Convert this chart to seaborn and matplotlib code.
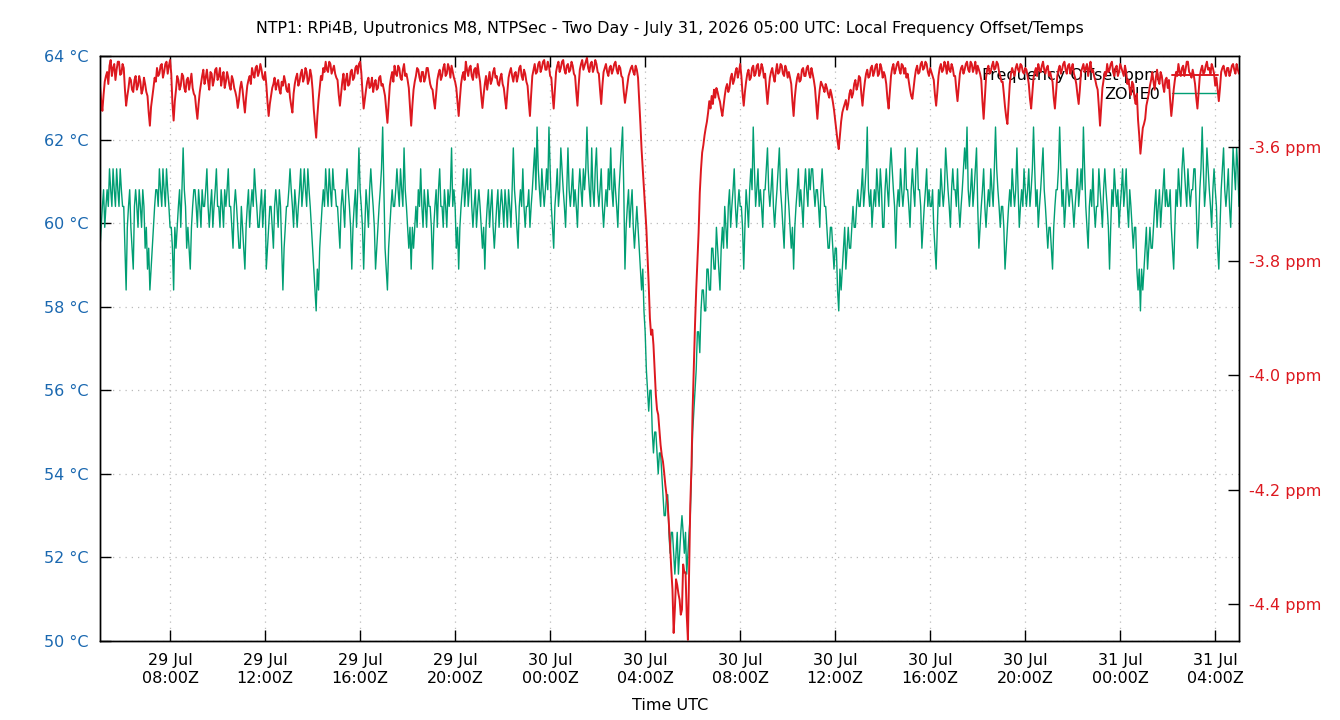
import pandas as pd
import seaborn as sns
import matplotlib.pyplot as plt
import matplotlib.dates as mdates
from matplotlib.ticker import FuncFormatter, MultipleLocator
from matplotlib.lines import Line2D

TITULO = ("NTP1: RPi4B, Uputronics M8, NTPSec - Two Day - July 31, 2026 05:00 UTC: "
          "Local Frequency Offset/Temps")
INICIO = "2026-07-29 05:03"
FIN = "2026-07-31 05:00"
PASO = "3min"

ROJO = "#dd181f"
VERDE = "#009e73"
AZUL = "#1a68b0"

# Offset de frecuencia [ppm], una fila por hora (muestra cada 3 min)
frecuencia_ppm = [
    -3.493, -3.520, -3.537, -3.509, -3.486, -3.476, -3.469, -3.490, -3.458, -3.448, -3.476, -3.462, -3.455, -3.483, -3.465, -3.451, -3.451, -3.474, -3.472, -3.455,
    -3.462, -3.500, -3.528, -3.511, -3.497, -3.479, -3.483, -3.500, -3.504, -3.483, -3.476, -3.500, -3.493, -3.476, -3.486, -3.507, -3.500, -3.479, -3.490, -3.504,
    -3.511, -3.540, -3.563, -3.530, -3.514, -3.497, -3.479, -3.486, -3.462, -3.476, -3.472, -3.458, -3.455, -3.479, -3.469, -3.455, -3.451, -3.472, -3.458, -3.448,
    -3.472, -3.525, -3.554, -3.520, -3.500, -3.476, -3.483, -3.500, -3.493, -3.472, -3.476, -3.497, -3.504, -3.483, -3.479, -3.500, -3.486, -3.472, -3.497, -3.507,
    -3.511, -3.533, -3.551, -3.525, -3.504, -3.490, -3.476, -3.465, -3.490, -3.479, -3.465, -3.486, -3.500, -3.469, -3.472, -3.493, -3.483, -3.465, -3.462, -3.483,
    -3.476, -3.462, -3.493, -3.479, -3.469, -3.497, -3.486, -3.469, -3.479, -3.493, -3.500, -3.476, -3.483, -3.497, -3.504, -3.514, -3.532, -3.518, -3.497, -3.486,
    -3.500, -3.521, -3.540, -3.514, -3.493, -3.483, -3.476, -3.490, -3.462, -3.472, -3.479, -3.462, -3.458, -3.476, -3.469, -3.455, -3.465, -3.479, -3.483, -3.469,
    -3.490, -3.521, -3.546, -3.525, -3.511, -3.497, -3.490, -3.479, -3.500, -3.490, -3.483, -3.500, -3.507, -3.486, -3.493, -3.476, -3.486, -3.500, -3.504, -3.490,
    -3.514, -3.528, -3.540, -3.507, -3.490, -3.479, -3.472, -3.493, -3.486, -3.472, -3.465, -3.486, -3.479, -3.462, -3.469, -3.490, -3.483, -3.465, -3.476, -3.500,
    -3.535, -3.560, -3.584, -3.546, -3.518, -3.497, -3.476, -3.483, -3.462, -3.469, -3.451, -3.465, -3.469, -3.451, -3.455, -3.472, -3.465, -3.458, -3.472, -3.479,
    -3.483, -3.509, -3.528, -3.507, -3.486, -3.472, -3.500, -3.483, -3.472, -3.493, -3.490, -3.469, -3.465, -3.483, -3.479, -3.462, -3.458, -3.472, -3.455, -3.451,
    -3.469, -3.504, -3.533, -3.516, -3.500, -3.486, -3.479, -3.497, -3.493, -3.479, -3.504, -3.490, -3.483, -3.500, -3.497, -3.479, -3.476, -3.493, -3.490, -3.500,
    -3.511, -3.535, -3.558, -3.525, -3.493, -3.479, -3.469, -3.486, -3.458, -3.472, -3.476, -3.458, -3.462, -3.479, -3.483, -3.465, -3.455, -3.476, -3.472, -3.483,
    -3.497, -3.530, -3.563, -3.528, -3.500, -3.486, -3.476, -3.462, -3.465, -3.479, -3.486, -3.469, -3.469, -3.486, -3.479, -3.462, -3.462, -3.476, -3.490, -3.497,
    -3.500, -3.518, -3.533, -3.507, -3.483, -3.472, -3.465, -3.483, -3.476, -3.462, -3.455, -3.476, -3.472, -3.455, -3.462, -3.479, -3.458, -3.469, -3.479, -3.486,
    -3.497, -3.521, -3.546, -3.516, -3.490, -3.476, -3.469, -3.483, -3.451, -3.465, -3.476, -3.462, -3.458, -3.476, -3.483, -3.465, -3.462, -3.479, -3.455, -3.472,
    -3.486, -3.511, -3.532, -3.509, -3.490, -3.476, -3.500, -3.483, -3.469, -3.490, -3.483, -3.469, -3.462, -3.479, -3.476, -3.490, -3.493, -3.479, -3.472, -3.490,
    -3.497, -3.516, -3.533, -3.504, -3.479, -3.469, -3.462, -3.476, -3.486, -3.472, -3.469, -3.486, -3.476, -3.462, -3.458, -3.476, -3.483, -3.465, -3.472, -3.486,
    -3.493, -3.521, -3.546, -3.509, -3.476, -3.465, -3.455, -3.472, -3.469, -3.455, -3.451, -3.469, -3.462, -3.451, -3.448, -3.465, -3.465, -3.451, -3.458, -3.476,
    -3.479, -3.509, -3.533, -3.500, -3.469, -3.458, -3.451, -3.469, -3.462, -3.451, -3.448, -3.465, -3.472, -3.458, -3.455, -3.469, -3.465, -3.451, -3.458, -3.472,
    -3.476, -3.504, -3.528, -3.493, -3.465, -3.455, -3.448, -3.465, -3.458, -3.451, -3.444, -3.462, -3.469, -3.455, -3.451, -3.469, -3.462, -3.448, -3.455, -3.469,
    -3.472, -3.500, -3.525, -3.493, -3.469, -3.462, -3.455, -3.469, -3.476, -3.462, -3.458, -3.472, -3.465, -3.455, -3.451, -3.465, -3.472, -3.458, -3.462, -3.476,
    -3.479, -3.504, -3.523, -3.507, -3.491, -3.476, -3.469, -3.462, -3.458, -3.469, -3.474, -3.458, -3.465, -3.479, -3.518, -3.560, -3.605, -3.640, -3.675, -3.710,
    -3.742, -3.790, -3.842, -3.900, -3.929, -3.920, -3.947, -3.990, -4.034, -4.060, -4.069, -4.095, -4.122, -4.140, -4.151, -4.170, -4.192, -4.210, -4.227, -4.260,
    -4.297, -4.340, -4.375, -4.451, -4.410, -4.357, -4.367, -4.382, -4.393, -4.419, -4.410, -4.331, -4.345, -4.345, -4.420, -4.463, -4.340, -4.227, -4.160, -4.058,
    -3.985, -3.910, -3.850, -3.800, -3.750, -3.680, -3.640, -3.610, -3.597, -3.580, -3.567, -3.556, -3.540, -3.520, -3.533, -3.511, -3.525, -3.500, -3.514, -3.497,
    -3.504, -3.514, -3.521, -3.535, -3.546, -3.528, -3.511, -3.497, -3.490, -3.504, -3.497, -3.479, -3.472, -3.490, -3.483, -3.469, -3.462, -3.479, -3.469, -3.455,
    -3.476, -3.507, -3.528, -3.504, -3.486, -3.472, -3.465, -3.483, -3.479, -3.462, -3.458, -3.476, -3.472, -3.458, -3.455, -3.476, -3.469, -3.455, -3.462, -3.479,
    -3.472, -3.500, -3.525, -3.500, -3.479, -3.469, -3.462, -3.476, -3.486, -3.469, -3.455, -3.472, -3.469, -3.455, -3.458, -3.472, -3.476, -3.458, -3.465, -3.479,
    -3.469, -3.479, -3.490, -3.521, -3.546, -3.514, -3.493, -3.479, -3.472, -3.486, -3.483, -3.465, -3.462, -3.476, -3.476, -3.462, -3.458, -3.472, -3.479, -3.462,
    -3.472, -3.483, -3.497, -3.525, -3.551, -3.521, -3.500, -3.486, -3.491, -3.497, -3.504, -3.490, -3.497, -3.507, -3.514, -3.500, -3.509, -3.521, -3.535, -3.553,
    -3.570, -3.590, -3.604, -3.580, -3.556, -3.540, -3.532, -3.525, -3.518, -3.535, -3.525, -3.507, -3.500, -3.514, -3.507, -3.490, -3.483, -3.500, -3.493, -3.476,
    -3.479, -3.507, -3.528, -3.504, -3.486, -3.472, -3.465, -3.479, -3.476, -3.462, -3.458, -3.476, -3.469, -3.458, -3.455, -3.476, -3.472, -3.455, -3.462, -3.479,
    -3.469, -3.476, -3.490, -3.516, -3.533, -3.504, -3.476, -3.462, -3.455, -3.472, -3.465, -3.455, -3.451, -3.465, -3.472, -3.455, -3.458, -3.472, -3.462, -3.479,
    -3.472, -3.486, -3.500, -3.511, -3.516, -3.497, -3.479, -3.465, -3.458, -3.472, -3.469, -3.455, -3.451, -3.465, -3.462, -3.451, -3.455, -3.469, -3.476, -3.462,
    -3.469, -3.476, -3.483, -3.509, -3.528, -3.504, -3.476, -3.462, -3.455, -3.469, -3.465, -3.451, -3.458, -3.472, -3.451, -3.465, -3.469, -3.455, -3.462, -3.476,
    -3.476, -3.500, -3.520, -3.497, -3.472, -3.462, -3.458, -3.472, -3.465, -3.455, -3.451, -3.465, -3.469, -3.451, -3.455, -3.469, -3.462, -3.451, -3.472, -3.458,
    -3.465, -3.472, -3.483, -3.521, -3.551, -3.516, -3.479, -3.465, -3.458, -3.472, -3.469, -3.458, -3.451, -3.465, -3.462, -3.451, -3.455, -3.469, -3.476, -3.486,
    -3.486, -3.507, -3.530, -3.548, -3.560, -3.525, -3.490, -3.472, -3.462, -3.469, -3.476, -3.462, -3.455, -3.465, -3.469, -3.455, -3.458, -3.469, -3.472, -3.462,
    -3.465, -3.476, -3.490, -3.516, -3.533, -3.507, -3.479, -3.469, -3.462, -3.476, -3.455, -3.465, -3.469, -3.458, -3.451, -3.465, -3.472, -3.462, -3.458, -3.476,
    -3.469, -3.479, -3.486, -3.514, -3.533, -3.504, -3.476, -3.465, -3.458, -3.472, -3.465, -3.455, -3.451, -3.465, -3.472, -3.458, -3.455, -3.472, -3.462, -3.455,
    -3.472, -3.479, -3.490, -3.509, -3.525, -3.500, -3.469, -3.462, -3.455, -3.469, -3.462, -3.455, -3.476, -3.462, -3.451, -3.469, -3.465, -3.476, -3.483, -3.493,
    -3.500, -3.530, -3.563, -3.530, -3.497, -3.483, -3.469, -3.476, -3.455, -3.469, -3.465, -3.455, -3.451, -3.469, -3.476, -3.462, -3.458, -3.476, -3.469, -3.455,
    -3.462, -3.469, -3.476, -3.458, -3.469, -3.490, -3.483, -3.500, -3.509, -3.486, -3.491, -3.514, -3.525, -3.507, -3.553, -3.580, -3.612, -3.590, -3.567, -3.560,
    -3.551, -3.528, -3.518, -3.507, -3.493, -3.483, -3.469, -3.486, -3.500, -3.479, -3.465, -3.483, -3.490, -3.469, -3.476, -3.493, -3.504, -3.483, -3.479, -3.497,
    -3.483, -3.518, -3.546, -3.525, -3.500, -3.483, -3.469, -3.476, -3.455, -3.469, -3.476, -3.462, -3.458, -3.476, -3.465, -3.451, -3.451, -3.469, -3.472, -3.479,
    -3.465, -3.476, -3.490, -3.514, -3.533, -3.504, -3.476, -3.465, -3.458, -3.472, -3.469, -3.458, -3.451, -3.465, -3.462, -3.472, -3.455, -3.462, -3.472, -3.493,
    -3.479, -3.500, -3.520, -3.497, -3.469, -3.462, -3.458, -3.469, -3.476, -3.462, -3.462, -3.476, -3.469, -3.458, -3.455, -3.465, -3.472, -3.455, -3.465, -3.472,
]

# Temperatura ZONE0 [°C], misma rejilla temporal
zona0_temp = [
    59.4, 59.9, 60.4, 60.8, 59.9, 60.4, 60.8, 60.4, 61.3, 60.8, 60.4, 61.3, 60.8, 60.4, 61.3, 60.8, 60.4, 61.3, 60.8, 60.4,
    60.4, 59.4, 58.4, 59.9, 60.4, 60.8, 59.9, 59.4, 58.9, 60.4, 60.8, 60.4, 59.9, 60.8, 60.4, 59.9, 60.8, 60.4, 59.4, 59.9,
    58.9, 59.4, 58.4, 58.9, 59.4, 59.9, 60.4, 60.8, 60.8, 60.4, 61.3, 60.8, 60.4, 61.3, 60.8, 60.4, 61.3, 60.8, 60.4, 59.9,
    59.9, 59.4, 58.4, 59.9, 59.4, 59.9, 60.4, 60.8, 59.9, 60.8, 61.8, 60.8, 60.4, 59.4, 59.9, 59.4, 58.9, 59.9, 60.4, 60.8,
    60.8, 60.4, 59.9, 60.8, 60.4, 59.9, 60.8, 60.4, 60.4, 60.8, 61.3, 60.4, 59.9, 60.4, 60.8, 59.9, 60.4, 60.8, 61.3, 60.4,
    60.4, 59.9, 60.8, 60.4, 59.9, 60.8, 60.4, 60.8, 61.3, 60.4, 60.4, 59.9, 59.4, 60.4, 60.8, 60.4, 59.9, 59.4, 59.4, 60.4,
    59.9, 59.4, 58.9, 59.9, 60.4, 60.8, 59.9, 60.4, 60.8, 60.4, 61.3, 60.8, 60.4, 59.9, 59.9, 60.4, 60.8, 59.9, 60.4, 60.8,
    58.9, 59.4, 59.9, 60.4, 60.4, 59.9, 59.4, 60.4, 60.8, 60.4, 59.9, 60.8, 60.4, 59.4, 58.4, 59.4, 59.9, 60.4, 60.4, 60.8,
    61.3, 60.8, 60.4, 59.9, 60.8, 60.4, 59.9, 60.4, 60.8, 61.3, 60.4, 60.8, 61.3, 60.8, 60.4, 61.3, 60.8, 60.4, 59.9, 59.4,
    58.9, 58.4, 57.9, 58.9, 58.4, 59.4, 59.9, 60.4, 60.8, 60.4, 61.3, 60.8, 60.4, 61.3, 60.8, 60.4, 61.3, 60.8, 60.8, 60.4,
    60.4, 59.9, 59.4, 60.4, 60.8, 60.4, 59.9, 60.8, 61.3, 60.8, 60.4, 59.9, 58.9, 59.9, 60.4, 60.8, 59.9, 60.8, 61.8, 60.8,
    60.4, 59.9, 58.9, 59.9, 60.8, 60.4, 59.9, 60.8, 61.3, 60.8, 60.4, 59.9, 58.9, 59.4, 59.9, 60.4, 60.8, 61.3, 62.3, 60.8,
    59.4, 58.9, 58.4, 59.4, 59.9, 60.4, 60.8, 60.4, 60.4, 60.8, 61.3, 60.8, 60.4, 61.3, 60.8, 60.4, 61.8, 60.8, 60.4, 59.9,
    59.4, 59.9, 58.9, 59.9, 59.4, 59.9, 60.4, 59.9, 60.8, 60.4, 61.3, 60.4, 59.9, 60.8, 60.4, 59.9, 60.8, 60.4, 60.4, 59.9,
    58.9, 59.9, 60.4, 60.8, 59.9, 60.8, 61.3, 60.4, 60.4, 59.9, 60.8, 60.4, 59.9, 60.8, 60.4, 60.8, 61.8, 60.4, 60.8, 60.4,
    59.4, 59.9, 58.9, 59.9, 60.4, 60.8, 61.3, 60.4, 60.8, 61.3, 60.4, 60.8, 61.3, 60.4, 59.9, 60.4, 60.8, 59.9, 60.4, 60.8,
    60.4, 59.9, 59.4, 59.9, 58.9, 59.9, 60.4, 60.8, 59.9, 60.4, 60.8, 59.9, 59.4, 59.9, 60.4, 60.8, 59.9, 60.4, 60.8, 60.4,
    59.9, 60.8, 60.4, 59.9, 60.8, 60.4, 59.9, 60.8, 61.8, 60.8, 60.4, 59.9, 59.4, 60.4, 60.8, 60.4, 61.3, 60.4, 59.9, 60.4,
    60.4, 60.8, 59.9, 60.4, 60.8, 61.3, 61.8, 60.8, 62.3, 61.3, 60.8, 60.4, 61.3, 60.8, 60.4, 60.8, 61.3, 60.8, 62.3, 61.3,
    60.4, 59.9, 59.4, 60.4, 60.8, 61.3, 60.4, 60.8, 61.8, 61.3, 60.8, 60.4, 59.9, 60.8, 61.8, 60.8, 60.4, 60.8, 61.3, 60.4,
    60.8, 60.4, 59.9, 60.8, 61.3, 60.8, 60.4, 61.3, 60.8, 61.3, 62.3, 61.3, 60.8, 60.4, 61.8, 60.8, 60.4, 61.3, 61.8, 60.8,
    60.4, 60.8, 61.3, 60.4, 59.9, 60.4, 60.8, 60.4, 61.3, 60.8, 61.8, 60.8, 60.4, 61.3, 60.8, 60.4, 59.9, 60.8, 61.3, 61.8,
    62.3, 60.8, 58.9, 59.9, 60.4, 60.8, 59.9, 60.4, 60.8, 59.9, 59.4, 59.9, 60.4, 59.9, 59.4, 58.9, 58.4, 58.9, 57.9, 57.4,
    56.5, 56.0, 55.5, 56.0, 56.0, 55.0, 54.5, 55.0, 55.0, 54.5, 54.0, 54.5, 54.5, 54.0, 53.5, 53.0, 53.0, 53.5, 53.5, 52.6,
    52.1, 52.6, 52.6, 52.1, 51.6, 52.1, 52.6, 51.6, 52.1, 52.6, 53.0, 52.6, 52.1, 52.6, 51.6, 52.1, 52.6, 53.0, 54.0, 55.0,
    55.5, 56.0, 56.5, 57.4, 57.4, 56.9, 57.9, 58.4, 58.4, 57.9, 57.9, 58.9, 58.9, 58.4, 58.4, 59.4, 59.4, 58.9, 58.9, 59.9,
    59.4, 58.9, 58.4, 59.4, 59.9, 59.4, 60.4, 59.9, 59.4, 60.4, 60.8, 59.9, 60.4, 60.8, 61.3, 60.4, 59.9, 60.4, 60.8, 60.4,
    60.4, 59.9, 58.9, 59.9, 60.8, 60.4, 59.9, 60.8, 61.3, 60.8, 62.3, 61.3, 60.4, 60.8, 61.3, 60.4, 60.8, 60.4, 59.9, 60.8,
    60.8, 61.3, 61.8, 60.8, 60.4, 60.8, 61.3, 60.4, 59.9, 60.4, 60.8, 61.3, 61.8, 60.8, 60.4, 59.9, 59.4, 60.4, 61.3, 60.8,
    60.4, 59.9, 59.4, 59.9, 58.9, 59.9, 60.4, 60.8, 61.3, 60.4, 60.8, 60.4, 59.9, 60.8, 61.3, 60.8, 60.4, 61.3, 60.8, 61.3,
    61.3, 60.8, 60.4, 60.8, 60.8, 60.4, 59.9, 60.8, 61.3, 60.8, 60.4, 60.4, 59.9, 59.4, 59.4, 59.9, 59.9, 59.4, 58.9, 59.4,
    59.4, 58.4, 57.9, 58.9, 58.4, 58.9, 59.4, 59.9, 58.9, 59.4, 59.9, 59.4, 59.4, 59.9, 60.4, 59.9, 59.9, 60.4, 60.8, 60.4,
    60.4, 60.8, 61.3, 60.4, 60.8, 61.3, 62.3, 60.8, 60.4, 60.8, 59.9, 60.4, 60.8, 60.4, 61.3, 60.8, 60.4, 61.3, 60.8, 59.9,
    59.9, 60.8, 61.3, 60.8, 60.4, 61.3, 61.8, 61.3, 60.8, 60.4, 59.4, 60.4, 60.8, 60.4, 61.3, 60.8, 60.4, 60.8, 61.8, 60.8,
    60.8, 60.4, 59.9, 60.8, 61.3, 60.8, 60.4, 61.3, 61.8, 60.8, 60.8, 60.4, 59.4, 59.9, 60.4, 60.8, 61.3, 60.4, 60.8, 60.4,
    60.4, 60.8, 59.9, 59.4, 58.9, 59.9, 60.8, 60.4, 61.3, 60.8, 60.4, 60.8, 61.8, 61.3, 60.8, 60.4, 59.9, 60.8, 61.3, 60.8,
    60.8, 60.4, 61.3, 60.4, 59.9, 60.4, 60.8, 61.3, 61.8, 61.3, 62.3, 60.8, 60.4, 60.8, 61.3, 60.4, 60.8, 61.3, 61.8, 60.4,
    59.4, 59.9, 60.4, 60.8, 61.3, 60.4, 59.9, 60.4, 60.8, 60.4, 61.3, 60.8, 60.4, 61.3, 62.3, 61.3, 60.8, 60.4, 59.9, 60.4,
    60.4, 59.9, 58.9, 59.4, 59.9, 60.4, 60.8, 60.4, 61.3, 60.8, 60.4, 60.8, 61.8, 60.8, 59.9, 60.4, 60.8, 60.4, 61.3, 60.8,
    60.4, 60.8, 61.3, 60.4, 60.8, 61.3, 62.3, 61.3, 60.4, 60.8, 59.9, 60.4, 60.8, 61.3, 61.8, 60.8, 60.4, 59.9, 59.4, 59.9,
    59.9, 59.4, 58.9, 59.9, 60.4, 60.8, 60.8, 61.3, 62.3, 61.3, 60.4, 60.8, 59.9, 60.4, 61.3, 60.8, 60.4, 60.8, 60.8, 60.4,
    59.9, 60.4, 60.8, 61.3, 60.4, 60.8, 61.3, 60.8, 62.3, 61.3, 60.4, 59.9, 59.4, 60.4, 60.8, 60.4, 61.3, 60.4, 59.9, 60.4,
    60.4, 61.3, 60.8, 60.4, 59.9, 60.8, 61.3, 60.8, 60.4, 59.9, 58.9, 59.9, 60.8, 60.4, 61.3, 60.8, 60.4, 60.8, 59.9, 60.4,
    60.8, 61.3, 60.4, 60.8, 61.3, 60.4, 59.9, 60.8, 60.4, 59.9, 59.4, 59.9, 59.9, 58.9, 58.4, 58.9, 57.9, 58.9, 58.4, 58.9,
    59.4, 59.9, 58.9, 59.4, 59.9, 59.4, 59.4, 59.9, 60.4, 60.8, 59.9, 60.4, 60.8, 59.9, 60.4, 60.8, 61.3, 60.4, 60.8, 60.4,
    60.4, 60.8, 59.9, 59.4, 58.9, 59.9, 60.8, 60.4, 61.3, 60.8, 60.4, 61.3, 61.8, 61.3, 60.8, 60.4, 61.3, 60.8, 60.4, 60.8,
    60.8, 61.3, 61.3, 60.4, 59.4, 59.9, 60.8, 61.3, 62.3, 61.3, 60.4, 60.8, 61.8, 61.3, 60.8, 60.4, 59.9, 60.8, 61.3, 60.8,
    60.4, 59.4, 58.9, 59.9, 60.8, 61.3, 61.8, 60.8, 60.4, 60.8, 61.3, 60.4, 59.9, 60.8, 61.8, 61.3, 60.8, 61.8, 61.3, 60.4,
]

ETIQUETAS = ["Frequency Offset ppm", "ZONE0"]


def graficar():
    tiempo = pd.date_range(INICIO, periods=len(frecuencia_ppm), freq=PASO)
    df = pd.DataFrame({"tiempo": tiempo, "freq": frecuencia_ppm, "temp": zona0_temp})

    sns.set_theme(style="ticks")
    plt.rcParams['font.family'] = ['DejaVu Sans']
    plt.rcParams['text.color'] = 'black'
    plt.rcParams['xtick.color'] = 'black'
    plt.rcParams['ytick.color'] = 'black'
    plt.rcParams['axes.edgecolor'] = 'black'

    fig = plt.figure(figsize=(13.4, 7.2), dpi=100)
    ax = fig.add_axes([100 / 1340, 79 / 720, 1139 / 1340, 585 / 720])
    ax2 = ax.twinx()

    sns.lineplot(data=df, x="tiempo", y="temp", ax=ax, color=VERDE, linewidth=1.0,
                 estimator=None, errorbar=None, legend=False)
    sns.lineplot(data=df, x="tiempo", y="freq", ax=ax2, color=ROJO, linewidth=1.4,
                 estimator=None, errorbar=None, legend=False)

    ax.set_xlim(pd.Timestamp(INICIO), pd.Timestamp(FIN))
    ax.set_ylim(50, 64)
    ax2.set_ylim(-4.465, -3.441)

    ax.xaxis.set_major_locator(mdates.HourLocator(byhour=[0, 4, 8, 12, 16, 20]))
    ax.xaxis.set_major_formatter(mdates.DateFormatter("%d %b\n%H:%MZ"))
    ax.yaxis.set_major_locator(MultipleLocator(2))
    ax.yaxis.set_major_formatter(FuncFormatter(lambda v, p: f"{v:.0f} °C"))
    ax2.yaxis.set_major_locator(MultipleLocator(0.2))
    ax2.yaxis.set_major_formatter(FuncFormatter(lambda v, p: f"{v:.1f} ppm"))

    ax.tick_params(axis="x", direction="in", length=8, width=1, top=True,
                   labelsize=11.5, pad=9, colors="black")
    ax.tick_params(axis="y", direction="in", length=8, width=1, right=False,
                   labelsize=11.5, pad=8, labelcolor=AZUL)
    ax2.tick_params(axis="y", direction="in", length=8, width=1,
                    labelsize=11.5, pad=7, labelcolor=ROJO)
    for lbl in ax.get_xticklabels():
        lbl.set_horizontalalignment("center")

    ax.set_xlabel("")
    ax.set_ylabel("")
    ax2.set_ylabel("")

    ax.grid(True, color="#bbbbbb", linestyle=(0, (1, 4)), linewidth=0.9)
    ax2.grid(False)
    for a in (ax, ax2):
        for s in a.spines.values():
            s.set_color("black")
            s.set_linewidth(1.0)

    manejadores = [Line2D([], [], color=ROJO, linewidth=1.4),
                   Line2D([], [], color=VERDE, linewidth=1.0)]
    ax.legend(manejadores, ETIQUETAS, loc="upper right", bbox_to_anchor=(0.982, 0.979),
              frameon=False, markerfirst=False, handlelength=2.9, handletextpad=0.75,
              labelspacing=0.22, borderpad=0, borderaxespad=0, fontsize=11.5)

    fig.text(670 / 1340, 1 - 28 / 720, TITULO, ha="center", va="center", fontsize=11.4)
    fig.text(670 / 1340, 1 - 706 / 720, "Time UTC", ha="center", va="center", fontsize=11.5)

    fig.savefig("out.png", dpi=100)
    plt.close(fig)


if __name__ == "__main__":
    graficar()
